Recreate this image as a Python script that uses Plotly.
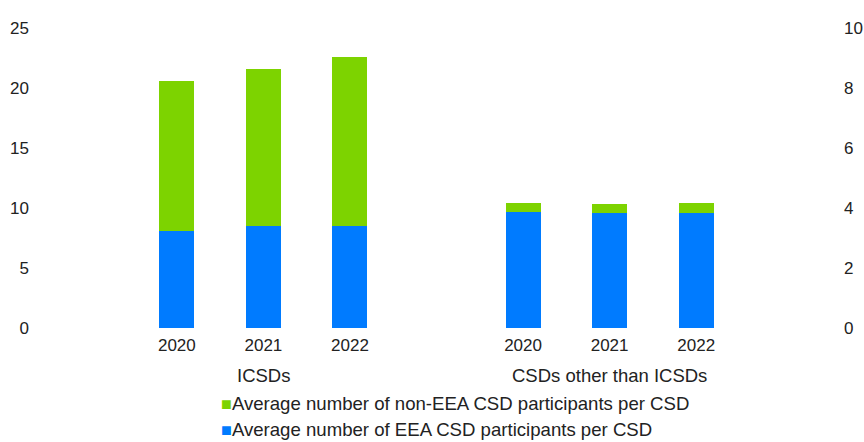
import plotly.graph_objects as go

# Category slots: 1-3 = ICSDs, 5-7 = CSDs other than ICSDs (slot 4 left empty as a gap)
years = ["2020", "2021", "2022"]
icsd_slots = [1, 2, 3]
other_slots = [5, 6, 7]
group_labels = ["ICSDs", "CSDs other than ICSDs"]

# ICSDs (left axis)
icsd_eea = [8.05, 8.5, 8.5]
icsd_non_eea = [12.5, 13.1, 14.1]

# CSDs other than ICSDs (right axis)
other_eea = [3.87, 3.82, 3.82]
other_non_eea = [0.29, 0.30, 0.34]

series_names = [
    "Average number of non-EEA CSD participants per CSD",
    "Average number of EEA CSD participants per CSD",
]

GREEN = "#7DD300"
BLUE = "#007BFF"
FONT = "Liberation Sans, Arial, sans-serif"
TXT = "#222222"
BAR_W = 0.405

fig = go.Figure()

# EEA (bottom segment)
fig.add_trace(go.Bar(x=icsd_slots, y=icsd_eea, width=BAR_W, marker_color=BLUE,
                     marker_line_width=0, name=series_names[1], showlegend=False))
fig.add_trace(go.Bar(x=other_slots, y=other_eea, width=BAR_W, marker_color=BLUE,
                     marker_line_width=0, yaxis="y2", name=series_names[1], showlegend=False))
# non-EEA stacked on top
fig.add_trace(go.Bar(x=icsd_slots, y=icsd_non_eea, base=icsd_eea, width=BAR_W,
                     marker_color=GREEN, marker_line_width=0,
                     name=series_names[0], showlegend=False))
fig.add_trace(go.Bar(x=other_slots, y=other_non_eea, base=other_eea, width=BAR_W,
                     marker_color=GREEN, marker_line_width=0, yaxis="y2",
                     name=series_names[0], showlegend=False))

# Group labels under the year ticks
for xpos, label in zip([icsd_slots[1], other_slots[1]], group_labels):
    fig.add_annotation(x=xpos, xref="x", y=-0.158, yref="paper", text=label,
                       showarrow=False, xanchor="center", yanchor="middle",
                       font=dict(family=FONT, size=18.5, color=TXT))

# Legend rows drawn as coloured square + text
for i, (name, col) in enumerate(zip(series_names, [GREEN, BLUE])):
    fig.add_annotation(
        x=(219 - 47) / 779, xref="paper", y=-(404 + 26 * i - 328) / 300.5, yref="paper",
        text=f'<span style="color:{col};font-size:18px">■</span>{name}',
        showarrow=False, xanchor="left", yanchor="middle",
        font=dict(family=FONT, size=18.6, color=TXT))

fig.update_layout(
    width=864, height=442,
    margin=dict(l=47, r=38, t=27.5, b=114),
    paper_bgcolor="white", plot_bgcolor="white",
    barmode="overlay",
    bargap=0,
    showlegend=False,
    font=dict(family=FONT, size=17, color=TXT),
    xaxis=dict(range=[-0.5, 8.5], tickvals=icsd_slots + other_slots,
               ticktext=years + years, showgrid=False, zeroline=False,
               showline=False, ticks="", ticklabelstandoff=5, automargin=False,
               tickfont=dict(family=FONT, size=17, color=TXT)),
    yaxis=dict(range=[0, 25], tickvals=[0, 5, 10, 15, 20, 25], showgrid=False,
               zeroline=False, showline=False, ticks="", ticklabelstandoff=17,
               automargin=False,
               tickfont=dict(family=FONT, size=17, color=TXT)),
    yaxis2=dict(range=[0, 10], tickvals=[0, 2, 4, 6, 8, 10], overlaying="y",
                side="right", showgrid=False, zeroline=False, showline=False,
                ticks="", ticklabelstandoff=17, automargin=False,
                tickfont=dict(family=FONT, size=17, color=TXT)),
)

fig.write_html("out.html")
